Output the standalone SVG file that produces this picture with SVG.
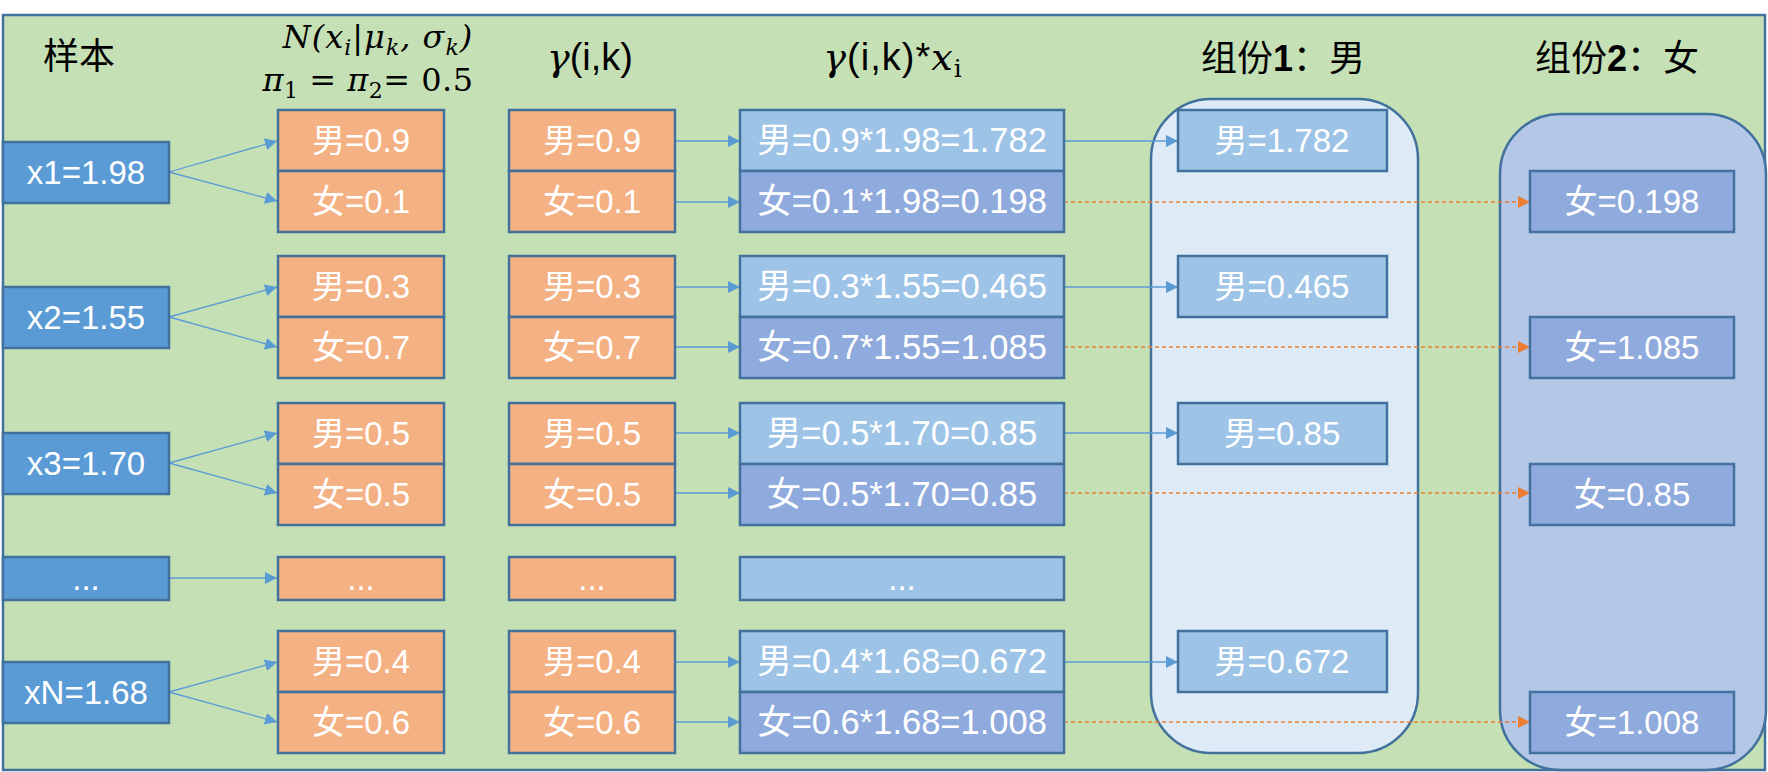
<svg xmlns="http://www.w3.org/2000/svg" width="1768" height="772" viewBox="0 0 1768 772">
<style>
.t{font-family:"Liberation Sans","Noto Sans CJK SC",sans-serif;font-size:33px;fill:#fff;text-anchor:middle}
.tp{font-size:34.5px}
.h{font-family:"Noto Sans CJK SC","Liberation Sans",sans-serif;font-size:36px;fill:#000;text-anchor:middle}
.m{font-family:"DejaVu Serif","Liberation Serif",serif;font-size:32px;fill:#000;text-anchor:middle;font-style:italic}
.g{font-family:"Liberation Sans","DejaVu Sans",sans-serif;font-size:38px;fill:#000;text-anchor:middle}
.gi{font-family:"DejaVu Serif","Liberation Serif",serif;font-style:italic}
.b{stroke:#41719C;stroke-width:2.5}
.xb{fill:#5B9BD5}
.ob{fill:#F4B183}
.lb{fill:#9DC3E6}
.db{fill:#8FAADC}
.cb{stroke:#5B9BD5;stroke-width:1.3;fill:none}
.co{stroke:#ED7D31;stroke-width:1.3;fill:none;stroke-dasharray:4 3}
</style>
<defs>
<marker id="ab" viewBox="0 0 12 12" refX="12" refY="6" markerWidth="12" markerHeight="12" markerUnits="userSpaceOnUse" orient="auto"><path d="M0,0 L12,6 L0,12 z" fill="#5B9BD5"/></marker>
<marker id="ao" viewBox="0 0 12 12" refX="12" refY="6" markerWidth="12" markerHeight="12" markerUnits="userSpaceOnUse" orient="auto"><path d="M0,0 L12,6 L0,12 z" fill="#ED7D31"/></marker>
</defs>
<rect x="0" y="0" width="1768" height="772" fill="#fff"/>
<rect id="background" x="3" y="15" width="1762" height="755" fill="#C5E0B4" stroke="#41719C" stroke-width="2.5"/>

<g id="headers">
<text class="h" x="79" y="69">样本</text>
<text class="m" x="378" y="48" letter-spacing="1">N(x<tspan font-size="22" dy="7">i</tspan><tspan font-style="normal" dy="-7">|</tspan>μ<tspan font-size="22" dy="7">k</tspan><tspan dy="-7">, σ</tspan><tspan font-size="22" dy="7">k</tspan><tspan dy="-7">)</tspan></text>
<text class="m" x="368" y="91" letter-spacing="0.5">π<tspan font-size="22" dy="7" font-style="normal">1</tspan><tspan dy="-7" font-style="normal"> = </tspan>π<tspan font-size="22" dy="7" font-style="normal">2</tspan><tspan dy="-7" font-style="normal">= 0.5</tspan></text>
<text class="g" x="590" y="70"><tspan class="gi">γ</tspan>(i,k)</text>
<text class="g" x="893" y="70" letter-spacing="1"><tspan class="gi">γ</tspan>(i,k)*<tspan class="gi">x</tspan><tspan font-family="DejaVu Serif,serif" font-size="25" dy="7">i</tspan></text>
<text class="h" x="1283" y="71">组份<tspan font-family="Liberation Sans,sans-serif" font-weight="bold">1</tspan>：男</text>
<text class="h" x="1617" y="71">组份<tspan font-family="Liberation Sans,sans-serif" font-weight="bold">2</tspan>：女</text>
</g>

<g id="group1"><rect x="1151" y="99" width="267" height="654" rx="60" ry="60" fill="#DEEBF7" class="b"/></g>
<g id="group2"><rect x="1500" y="114" width="266" height="656" rx="60" ry="60" fill="#B4C7E7" class="b"/></g>

<g id="connectors">
<path class="cb" d="M169,172 L277,141" marker-end="url(#ab)"/>
<path class="cb" d="M169,172 L277,201" marker-end="url(#ab)"/>
<path class="cb" d="M169,317 L277,287" marker-end="url(#ab)"/>
<path class="cb" d="M169,317 L277,347" marker-end="url(#ab)"/>
<path class="cb" d="M169,463 L277,433" marker-end="url(#ab)"/>
<path class="cb" d="M169,463 L277,493" marker-end="url(#ab)"/>
<path class="cb" d="M169,578 L277,578" marker-end="url(#ab)"/>
<path class="cb" d="M169,692 L277,662" marker-end="url(#ab)"/>
<path class="cb" d="M169,692 L277,722" marker-end="url(#ab)"/>

<path class="cb" d="M674,141 L740,141" marker-end="url(#ab)"/>
<path class="cb" d="M674,202 L740,202" marker-end="url(#ab)"/>
<path class="cb" d="M674,287 L740,287" marker-end="url(#ab)"/>
<path class="cb" d="M674,347 L740,347" marker-end="url(#ab)"/>
<path class="cb" d="M674,433 L740,433" marker-end="url(#ab)"/>
<path class="cb" d="M674,493 L740,493" marker-end="url(#ab)"/>
<path class="cb" d="M674,662 L740,662" marker-end="url(#ab)"/>
<path class="cb" d="M674,722 L740,722" marker-end="url(#ab)"/>

<path class="cb" d="M1064,141 L1178,141" marker-end="url(#ab)"/>
<path class="cb" d="M1064,287 L1178,287" marker-end="url(#ab)"/>
<path class="cb" d="M1064,433 L1178,433" marker-end="url(#ab)"/>
<path class="cb" d="M1064,662 L1178,662" marker-end="url(#ab)"/>

<path class="co" d="M1064,202 L1530,202" marker-end="url(#ao)"/>
<path class="co" d="M1064,347 L1530,347" marker-end="url(#ao)"/>
<path class="co" d="M1064,493 L1530,493" marker-end="url(#ao)"/>
<path class="co" d="M1064,722 L1530,722" marker-end="url(#ao)"/>
</g>

<g id="x1"><rect x="3" y="142" width="166" height="61" class="b xb"/><text class="t" x="86" y="184">x1=1.98</text></g>
<g id="x2"><rect x="3" y="287" width="166" height="61" class="b xb"/><text class="t" x="86" y="329">x2=1.55</text></g>
<g id="x3"><rect x="3" y="433" width="166" height="61" class="b xb"/><text class="t" x="86" y="475">x3=1.70</text></g>
<g id="xdots"><rect x="3" y="557" width="166" height="43" class="b xb"/><text class="t" x="86" y="590">...</text></g>
<g id="xN"><rect x="3" y="662" width="166" height="61" class="b xb"/><text class="t" x="86" y="704">xN=1.68</text></g>

<g id="n1m"><rect x="278" y="110" width="166" height="61" class="b ob"/><text class="t" x="361" y="152">男=0.9</text></g>
<g id="n1f"><rect x="278" y="171" width="166" height="61" class="b ob"/><text class="t" x="361" y="213">女=0.1</text></g>
<g id="n2m"><rect x="278" y="256" width="166" height="61" class="b ob"/><text class="t" x="361" y="298">男=0.3</text></g>
<g id="n2f"><rect x="278" y="317" width="166" height="61" class="b ob"/><text class="t" x="361" y="359">女=0.7</text></g>
<g id="n3m"><rect x="278" y="403" width="166" height="61" class="b ob"/><text class="t" x="361" y="445">男=0.5</text></g>
<g id="n3f"><rect x="278" y="464" width="166" height="61" class="b ob"/><text class="t" x="361" y="506">女=0.5</text></g>
<g id="ndots"><rect x="278" y="557" width="166" height="43" class="b ob"/><text class="t" x="361" y="590">...</text></g>
<g id="nNm"><rect x="278" y="631" width="166" height="61" class="b ob"/><text class="t" x="361" y="673">男=0.4</text></g>
<g id="nNf"><rect x="278" y="692" width="166" height="61" class="b ob"/><text class="t" x="361" y="734">女=0.6</text></g>

<g id="g1m"><rect x="509" y="110" width="166" height="61" class="b ob"/><text class="t" x="592" y="152">男=0.9</text></g>
<g id="g1f"><rect x="509" y="171" width="166" height="61" class="b ob"/><text class="t" x="592" y="213">女=0.1</text></g>
<g id="g2m"><rect x="509" y="256" width="166" height="61" class="b ob"/><text class="t" x="592" y="298">男=0.3</text></g>
<g id="g2f"><rect x="509" y="317" width="166" height="61" class="b ob"/><text class="t" x="592" y="359">女=0.7</text></g>
<g id="g3m"><rect x="509" y="403" width="166" height="61" class="b ob"/><text class="t" x="592" y="445">男=0.5</text></g>
<g id="g3f"><rect x="509" y="464" width="166" height="61" class="b ob"/><text class="t" x="592" y="506">女=0.5</text></g>
<g id="gdots"><rect x="509" y="557" width="166" height="43" class="b ob"/><text class="t" x="592" y="590">...</text></g>
<g id="gNm"><rect x="509" y="631" width="166" height="61" class="b ob"/><text class="t" x="592" y="673">男=0.4</text></g>
<g id="gNf"><rect x="509" y="692" width="166" height="61" class="b ob"/><text class="t" x="592" y="734">女=0.6</text></g>

<g id="p1m"><rect x="740" y="110" width="324" height="61" class="b lb"/><text class="t tp" x="902" y="152">男=0.9*1.98=1.782</text></g>
<g id="p1f"><rect x="740" y="171" width="324" height="61" class="b db"/><text class="t tp" x="902" y="213">女=0.1*1.98=0.198</text></g>
<g id="p2m"><rect x="740" y="256" width="324" height="61" class="b lb"/><text class="t tp" x="902" y="298">男=0.3*1.55=0.465</text></g>
<g id="p2f"><rect x="740" y="317" width="324" height="61" class="b db"/><text class="t tp" x="902" y="359">女=0.7*1.55=1.085</text></g>
<g id="p3m"><rect x="740" y="403" width="324" height="61" class="b lb"/><text class="t tp" x="902" y="445">男=0.5*1.70=0.85</text></g>
<g id="p3f"><rect x="740" y="464" width="324" height="61" class="b db"/><text class="t tp" x="902" y="506">女=0.5*1.70=0.85</text></g>
<g id="pdots"><rect x="740" y="557" width="324" height="43" class="b lb"/><text class="t" x="902" y="590">...</text></g>
<g id="pNm"><rect x="740" y="631" width="324" height="61" class="b lb"/><text class="t tp" x="902" y="673">男=0.4*1.68=0.672</text></g>
<g id="pNf"><rect x="740" y="692" width="324" height="61" class="b db"/><text class="t tp" x="902" y="734">女=0.6*1.68=1.008</text></g>

<g id="c1a"><rect x="1178" y="110" width="209" height="61" class="b lb"/><text class="t" x="1282" y="152">男=1.782</text></g>
<g id="c1b"><rect x="1178" y="256" width="209" height="61" class="b lb"/><text class="t" x="1282" y="298">男=0.465</text></g>
<g id="c1c"><rect x="1178" y="403" width="209" height="61" class="b lb"/><text class="t" x="1282" y="445">男=0.85</text></g>
<g id="c1d"><rect x="1178" y="631" width="209" height="61" class="b lb"/><text class="t" x="1282" y="673">男=0.672</text></g>

<g id="c2a"><rect x="1530" y="171" width="204" height="61" class="b db"/><text class="t" x="1632" y="213">女=0.198</text></g>
<g id="c2b"><rect x="1530" y="317" width="204" height="61" class="b db"/><text class="t" x="1632" y="359">女=1.085</text></g>
<g id="c2c"><rect x="1530" y="464" width="204" height="61" class="b db"/><text class="t" x="1632" y="506">女=0.85</text></g>
<g id="c2d"><rect x="1530" y="692" width="204" height="61" class="b db"/><text class="t" x="1632" y="734">女=1.008</text></g>
</svg>
